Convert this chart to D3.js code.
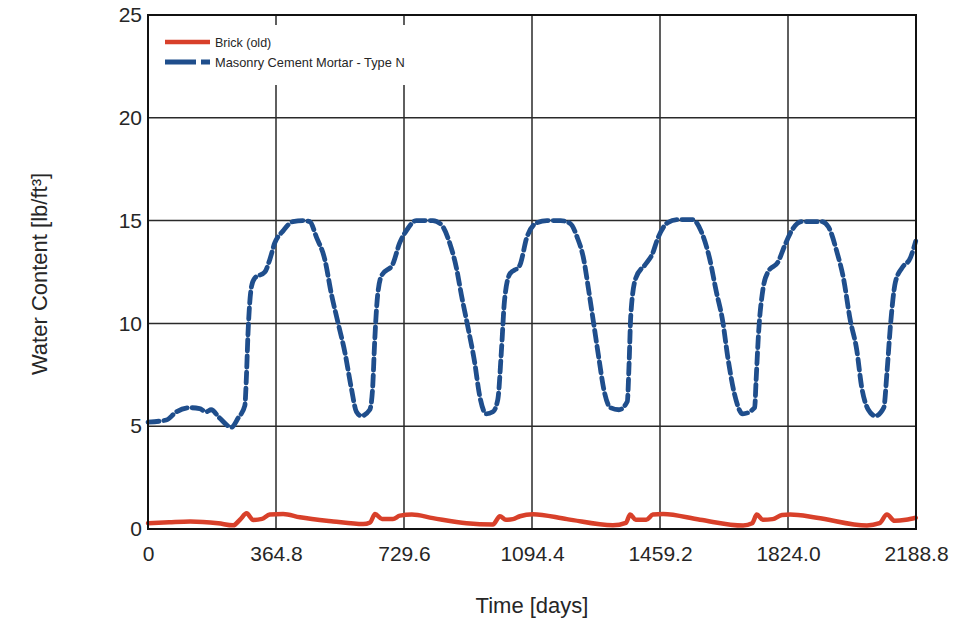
<!DOCTYPE html>
<html>
<head>
<meta charset="utf-8">
<script src="https://cdn.jsdelivr.net/npm/d3@7"></script>
<style>
  html, body { margin: 0; padding: 0; background: #fff; }
  svg { display: block; font-family: "Liberation Sans", Arial, sans-serif; }
</style>
</head>
<body>
<svg id="chart" width="968" height="621"></svg>
<script>
// Hygrothermal simulation: water content over six years
const xTicks = [0, 364.8, 729.6, 1094.4, 1459.2, 1824.0, 2188.8];
const xTickLabels = ["0", "364.8", "729.6", "1094.4", "1459.2", "1824.0", "2188.8"];
const yTicks = [0, 5, 10, 15, 20, 25];

const seriesNames = ["Brick (old)", "Masonry Cement Mortar - Type N"];

// Brick (old): [day, lb/ft³]
const brickDays = [0, 60, 120, 200, 243, 262, 281, 300, 325, 347, 385, 433, 528, 613, 633, 647, 667, 698, 718, 752, 812, 908, 983, 1003, 1020, 1040, 1060, 1097, 1194, 1325, 1362, 1374, 1390, 1420, 1439, 1468, 1573, 1696, 1722, 1735, 1752, 1780, 1807, 1830, 1906, 2049, 2085, 2106, 2128, 2160, 2188];
const brickValues = [0.28, 0.33, 0.37, 0.28, 0.18, 0.45, 0.76, 0.44, 0.49, 0.70, 0.73, 0.57, 0.37, 0.24, 0.32, 0.73, 0.49, 0.49, 0.65, 0.70, 0.53, 0.28, 0.22, 0.62, 0.45, 0.48, 0.62, 0.72, 0.48, 0.18, 0.30, 0.70, 0.45, 0.45, 0.70, 0.73, 0.45, 0.17, 0.28, 0.70, 0.45, 0.48, 0.68, 0.70, 0.55, 0.17, 0.28, 0.70, 0.40, 0.45, 0.55];

// Masonry Cement Mortar - Type N: [day, lb/ft³]
const mortarDays = [0, 52, 81, 119, 147, 166, 180, 204, 238, 257, 276, 280, 285, 295, 304, 333, 347, 361, 385, 413, 442, 461, 480, 504, 523, 542, 561, 580, 594, 608, 632, 640, 646, 653, 665, 698, 717, 736, 765, 812, 836, 860, 879, 893, 912, 931, 945, 964, 983, 997, 1007, 1016, 1031, 1059, 1080, 1109, 1137, 1176, 1204, 1223, 1242, 1256, 1271, 1285, 1299, 1318, 1342, 1366, 1371, 1376, 1390, 1419, 1438, 1452, 1481, 1509, 1552, 1576, 1600, 1619, 1638, 1652, 1671, 1695, 1729, 1733, 1740, 1753, 1767, 1796, 1815, 1834, 1863, 1920, 1939, 1963, 1982, 2001, 2020, 2034, 2053, 2073, 2097, 2106, 2116, 2130, 2149, 2173, 2188];
const mortarValues = [5.2, 5.3, 5.7, 5.9, 5.85, 5.7, 5.8, 5.4, 4.95, 5.4, 6.0, 7.2, 9.5, 11.8, 12.2, 12.5, 13.1, 13.9, 14.5, 14.95, 15.0, 14.95, 14.2, 13.1, 11.4, 10.0, 8.6, 6.8, 5.7, 5.5, 5.8, 6.8, 9.1, 11.1, 12.3, 12.9, 13.9, 14.5, 15.0, 15.0, 14.8, 13.9, 12.7, 11.4, 9.8, 8.1, 6.5, 5.6, 5.7, 6.3, 8.6, 11.1, 12.4, 12.8, 14.2, 14.9, 15.0, 15.0, 14.85, 14.2, 13.1, 11.6, 9.9, 8.3, 6.8, 5.9, 5.8, 6.2, 8.0, 10.4, 12.2, 12.9, 13.4, 14.1, 14.9, 15.05, 15.05, 14.5, 13.2, 11.6, 10.1, 8.4, 6.6, 5.6, 5.9, 7.2, 9.5, 11.7, 12.5, 13.0, 13.8, 14.5, 14.95, 14.95, 14.7, 13.5, 12.2, 10.2, 8.7, 6.9, 5.8, 5.5, 5.9, 7.6, 9.9, 12.0, 12.7, 13.2, 14.0];

const colors = { brick: "#d8402a", mortar: "#1f4e8c" };
const textColor = "#262626";
const fontFamily = "'Liberation Sans', Arial, sans-serif";

const svg = d3.select("#chart");
const margin = { left: 148, right: 52, top: 15, bottom: 92 };
const W = 968, H = 621;
const innerW = W - margin.left - margin.right;
const innerH = H - margin.top - margin.bottom;

const x = d3.scaleLinear().domain([0, 2188.8]).range([0, innerW]);
const y = d3.scaleLinear().domain([0, 25]).range([innerH, 0]);

const g = svg.append("g").attr("transform", `translate(${margin.left},${margin.top})`);

// grid lines
g.append("g").selectAll("line").data(xTicks.slice(1, -1)).join("line")
  .attr("x1", d => x(d)).attr("x2", d => x(d))
  .attr("y1", 0).attr("y2", innerH)
  .attr("stroke", "#2a2a2a").attr("stroke-width", 1.5);
g.append("g").selectAll("line").data(yTicks.slice(1, -1)).join("line")
  .attr("x1", 0).attr("x2", innerW)
  .attr("y1", d => y(d)).attr("y2", d => y(d))
  .attr("stroke", "#2a2a2a").attr("stroke-width", 1.5);

// axes (labels only; frame drawn separately)
const xAxis = g.append("g").attr("transform", `translate(0,${innerH})`)
  .call(d3.axisBottom(x).tickValues(xTicks).tickFormat((d, i) => xTickLabels[i]).tickSize(0).tickPadding(17));
const yAxis = g.append("g")
  .call(d3.axisLeft(y).tickValues(yTicks).tickFormat(d3.format("d")).tickSize(0).tickPadding(6));
[xAxis, yAxis].forEach(a => {
  a.select(".domain").remove();
  a.selectAll("text").attr("font-size", 21).attr("fill", textColor).attr("font-family", fontFamily);
});

// data lines
const line = d3.line().x(d => x(d[0])).y(d => y(d[1])).curve(d3.curveMonotoneX);
const brick = brickDays.map((d, i) => [d, brickValues[i]]);
const mortar = mortarDays.map((d, i) => [d, mortarValues[i]]);

g.append("path").datum(brick).attr("d", line)
  .attr("fill", "none").attr("stroke", colors.brick).attr("stroke-width", 4.5)
  .attr("stroke-linejoin", "round").attr("stroke-linecap", "round");
g.append("path").datum(mortar).attr("d", line)
  .attr("fill", "none").attr("stroke", colors.mortar).attr("stroke-width", 4.8)
  .attr("stroke-dasharray", "11,5").attr("stroke-linecap", "round");

// frame
g.append("rect").attr("x", 0).attr("y", 0).attr("width", innerW).attr("height", innerH)
  .attr("fill", "none").attr("stroke", "#111").attr("stroke-width", 2);

// legend with a plain white backing that hides the grid behind it
const lg = g.append("g").attr("transform", "translate(17,27)");
lg.append("rect").attr("x", -15).attr("y", -17).attr("width", 272).attr("height", 60).attr("fill", "#fff");
lg.append("line").attr("x1", 0).attr("x2", 45).attr("y1", 0).attr("y2", 0)
  .attr("stroke", colors.brick).attr("stroke-width", 4.5);
lg.append("text").attr("x", 50).attr("y", 4.5).attr("font-size", 12.5).attr("fill", textColor).text(seriesNames[0]);
lg.append("line").attr("x1", 0).attr("x2", 45).attr("y1", 20).attr("y2", 20)
  .attr("stroke", colors.mortar).attr("stroke-width", 4.8).attr("stroke-dasharray", "31,5,9,20");
lg.append("text").attr("x", 50).attr("y", 24.5).attr("font-size", 12.8).attr("fill", textColor).text(seriesNames[1]);

// axis titles
svg.append("text").attr("x", 532).attr("y", 613)
  .attr("text-anchor", "middle").attr("font-size", 22).attr("fill", textColor).text("Time [days]");
svg.append("text").attr("transform", `translate(47,274) rotate(-90)`)
  .attr("text-anchor", "middle").attr("font-size", 22).attr("fill", textColor).text("Water Content [lb/ft³]");
</script>
</body>
</html>
